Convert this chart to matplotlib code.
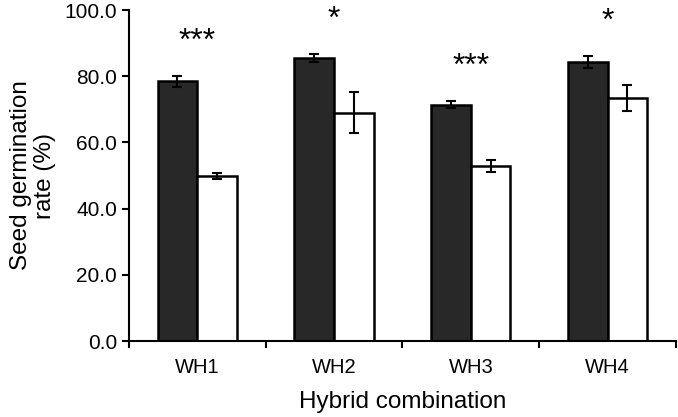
import numpy as np
import matplotlib
matplotlib.use('Agg')
import matplotlib.pyplot as plt

plt.rcParams["font.family"] = ["Liberation Sans", "DejaVu Sans"]

# data
groups = ['WH1', 'WH2', 'WH3', 'WH4']
dark_vals = [78.5, 85.5, 71.4, 84.4]
dark_err = [1.7, 1.3, 1.0, 1.8]
white_vals = [50.0, 69.0, 52.9, 73.4]
white_err = [0.9, 6.1, 1.8, 4.0]
stars = ['***', '*', '***', '*']
star_y = [92.4, 99.0, 84.9, 98.5]

fig = plt.figure(figsize=(6.78, 4.17), dpi=100)
ax = fig.add_axes([0.190, 0.182, 0.807, 0.794])

x = np.arange(len(groups)) + 0.5
w = 0.29
ekw = dict(elinewidth=1.5, capthick=1.5, ecolor='black')
ax.bar(x - w/2, dark_vals, w, yerr=dark_err, color='#282828', edgecolor='black',
       linewidth=1.8, capsize=3.5, error_kw=ekw, zorder=2)
ax.bar(x + w/2, white_vals, w, yerr=white_err, color='white', edgecolor='black',
       linewidth=1.8, capsize=3.5, error_kw=ekw, zorder=2)

for xi, s, yi in zip(x, stars, star_y):
    ax.text(xi, yi - 1.0, s, ha='center', va='center_baseline', fontsize=23,
            clip_on=False)

ax.set_xlim(0, 4)
ax.set_ylim(0, 100)
ax.set_yticks(np.arange(0, 101, 20))
ax.set_yticklabels(['%.1f' % v for v in np.arange(0, 101, 20)], fontsize=15)
ax.set_xticks(np.arange(0, 5))
ax.set_xticklabels([])
ax.set_xticks(x, minor=True)
ax.set_xticklabels(groups, minor=True, fontsize=14.5)
ax.tick_params(axis='x', which='minor', length=0, pad=12)
ax.tick_params(axis='both', which='major', direction='out', length=5, width=1.5)
for sp in ['top', 'right']:
    ax.spines[sp].set_visible(False)
for sp in ['left', 'bottom']:
    ax.spines[sp].set_linewidth(1.5)

ax.set_xlabel('Hybrid combination', fontsize=17.5, labelpad=10)
ax.set_ylabel('Seed germination\nrate (%)', fontsize=17.5, labelpad=6, linespacing=1.1)

fig.savefig('out.png', dpi=100)
